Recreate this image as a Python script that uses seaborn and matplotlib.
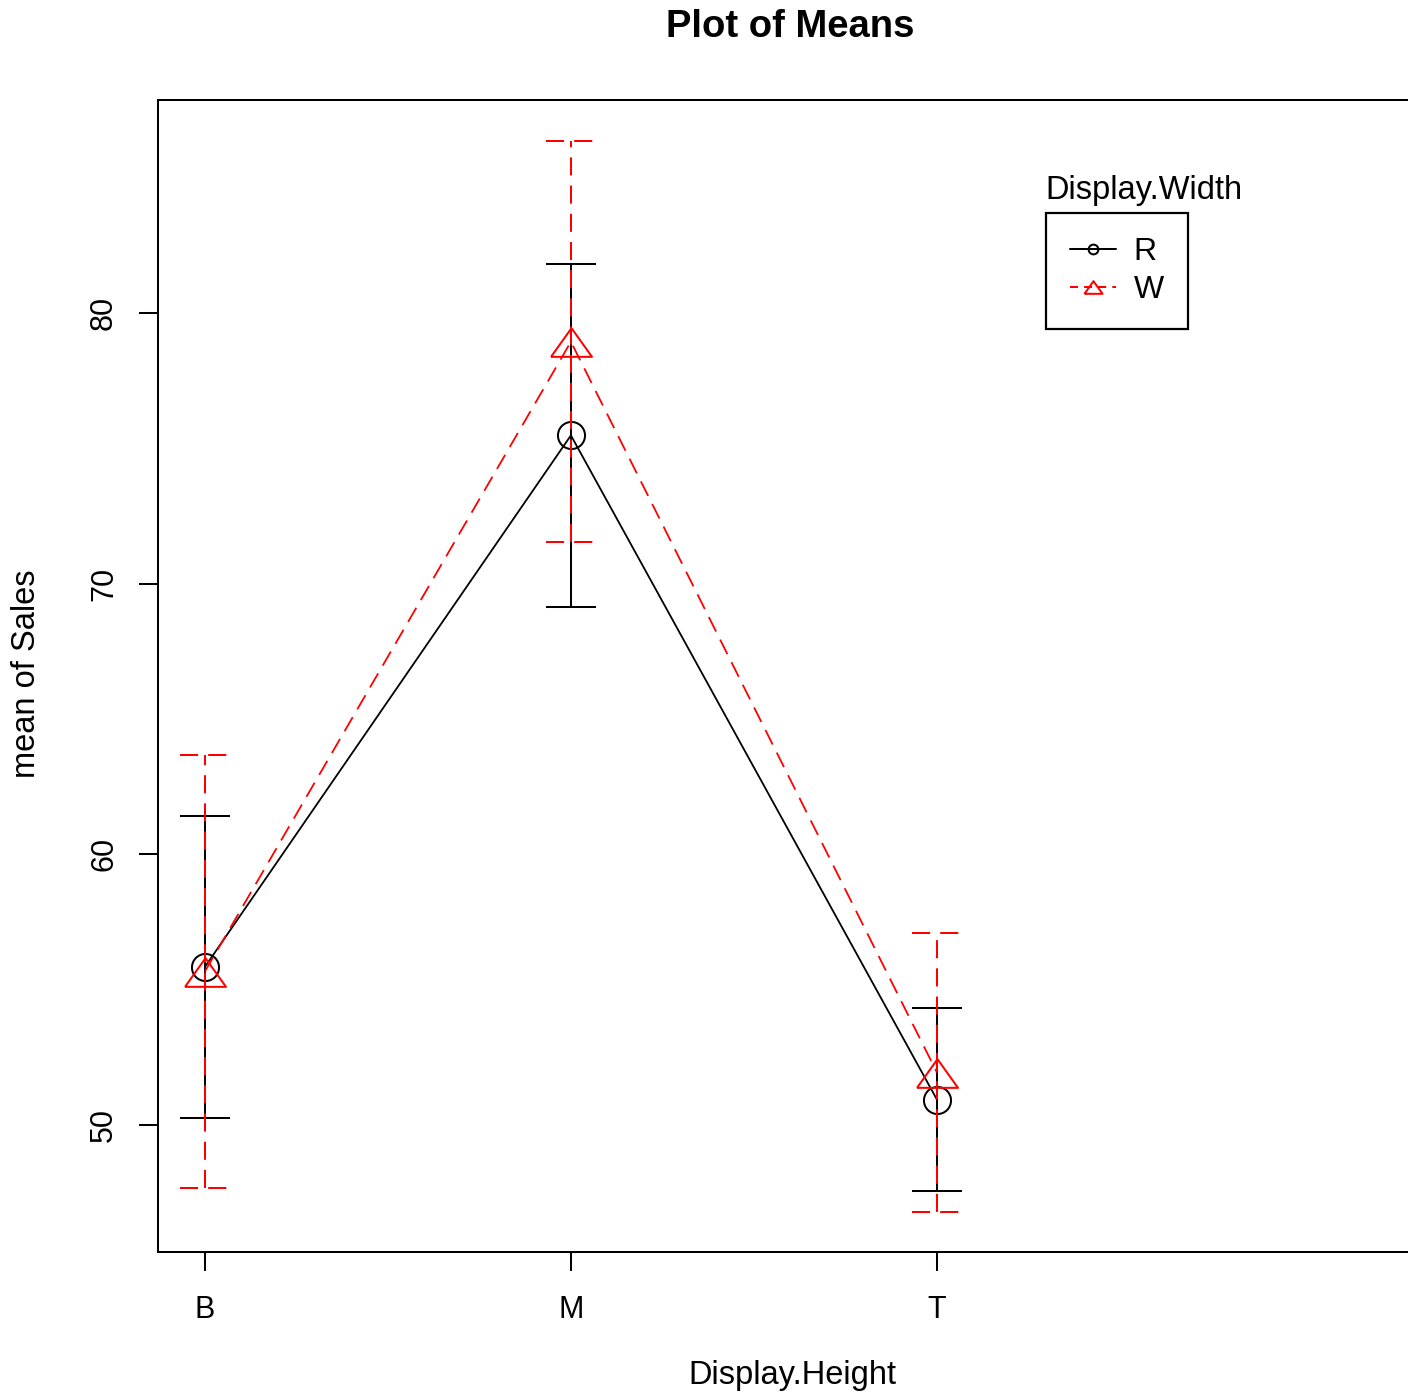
import numpy as np
import pandas as pd
import seaborn as sns
from matplotlib import pyplot as plt
from matplotlib.lines import Line2D

# values
heights = ['B', 'M', 'T']
widths = ['R', 'W']
mean_R = [55.84, 75.48, 50.94]
half_R = [5.58, 6.33, 3.38]
mean_W = [55.67, 78.94, 51.94]
half_W = [8.00, 7.40, 5.15]
yticks = [50, 60, 70, 80]

df = pd.DataFrame({
    'Display.Height': heights * 2,
    'Display.Width': ['R'] * 3 + ['W'] * 3,
    'Sales': mean_R + mean_W,
    'half': half_R + half_W,
})
df['pos'] = df['Display.Height'].map({h: i for i, h in enumerate(heights)})

sns.set_theme(style='ticks')
plt.rcParams['font.family'] = ['Liberation Sans', 'DejaVu Sans']
plt.rcParams['axes.linewidth'] = 1.45
plt.rcParams['text.color'] = 'black'

fig = plt.figure(figsize=(14.08, 13.93), dpi=100)
ax = fig.add_axes([158/1408, 1 - 1252/1393, (1422 - 158)/1408, (1252 - 100)/1393])

# open triangle like R's pch 2
tri = [(-1, -0.7), (1, -0.7), (0, 0.7), (-1, -0.7)]
styles = {
    'R': dict(color='black', marker='o', ms=19.5, ls='-', z=2),
    'W': dict(color='red', marker=tri, ms=29.5, ls=(0, (9, 5)), z=3),
}
cap = 0.068

for w in widths:
    st = styles[w]
    d = df[df['Display.Width'] == w]
    lo = d['Sales'] - d['half']
    hi = d['Sales'] + d['half']
    ax.vlines(d['pos'], lo, hi, color=st['color'], lw=1.45, linestyles=[st['ls']], zorder=st['z'])
    ax.hlines(lo, d['pos'] - cap, d['pos'] + cap, color=st['color'], lw=1.45, linestyles=[st['ls']], zorder=st['z'])
    ax.hlines(hi, d['pos'] - cap, d['pos'] + cap, color=st['color'], lw=1.45, linestyles=[st['ls']], zorder=st['z'])
    sns.lineplot(data=d, x='pos', y='Sales', ax=ax, color=st['color'], marker=st['marker'],
                 markersize=st['ms'], markerfacecolor='none', markeredgecolor=st['color'],
                 markeredgewidth=1.45, linestyle=st['ls'], lw=1.3, legend=False, zorder=st['z'])

ax.set_xlim(-0.128, 3.325)
ax.set_ylim(45.31, 87.87)
ax.set_xticks(range(len(heights)))
ax.set_xticklabels(heights)
ax.set_yticks(yticks)
ax.set_yticklabels([str(t) for t in yticks], rotation=90, va='center')
ax.tick_params(direction='out', length=14, width=1.45, colors='black', labelsize=22)
ax.tick_params(axis='x', pad=17)
ax.tick_params(axis='y', pad=14)
ax.set_xlabel('')
ax.set_ylabel('')
for s in ax.spines.values():
    s.set_visible(True)
    s.set_color('black')

fig.text(790/1408, 1 - 27/1393, 'Plot of Means', ha='center', va='center', fontsize=27.5, fontweight='bold')
fig.text(792/1408, 1 - 1391/1393, 'Display.Height', ha='center', va='bottom', fontsize=23.5)
fig.text(27/1408, 1 - 674/1393, 'mean of Sales', ha='center', va='center', rotation=90, fontsize=23.5)

handles = [
    Line2D([], [], color='black', marker='o', ms=7, mfc='none', mew=1.45, lw=1.45),
    Line2D([], [], color='red', marker=tri, ms=13, mfc='none', mew=1.45, lw=1.45, ls=(0, (4, 3))),
]
leg = fig.legend(handles, widths, loc='upper left', bbox_to_anchor=(1046/1408, 1 - 213/1393),
                 borderaxespad=0, fontsize=23, frameon=True, fancybox=False, framealpha=1,
                 handlelength=1.45, handletextpad=0.55, borderpad=0.75, labelspacing=0.25)
leg.get_frame().set_edgecolor('black')
leg.get_frame().set_linewidth(1.6)
fig.text(1045/1408, 1 - 191/1393, 'Display.Width', ha='left', va='center', fontsize=23.5)

plt.savefig('out.png', dpi=100)
